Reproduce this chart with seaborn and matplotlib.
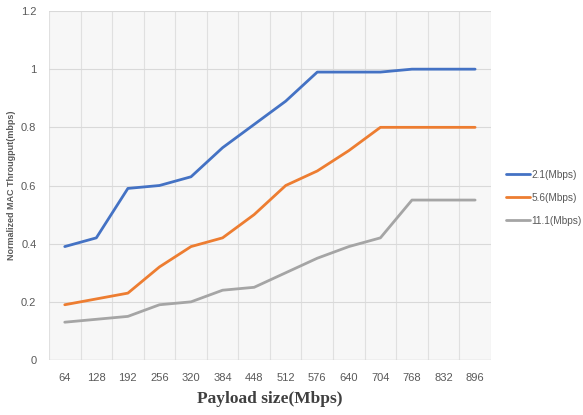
import matplotlib
matplotlib.use("Agg")
import matplotlib.pyplot as plt
import seaborn as sns
import pandas as pd

payload = ["64", "128", "192", "256", "320", "384", "448", "512", "576", "640", "704", "768", "832", "896"]
s21 = [0.39, 0.42, 0.59, 0.60, 0.63, 0.73, 0.81, 0.89, 0.99, 0.99, 0.99, 1.0, 1.0, 1.0]
s56 = [0.19, 0.21, 0.23, 0.32, 0.39, 0.42, 0.50, 0.60, 0.65, 0.72, 0.80, 0.80, 0.80, 0.80]
s111 = [0.13, 0.14, 0.15, 0.19, 0.20, 0.24, 0.25, 0.30, 0.35, 0.39, 0.42, 0.55, 0.55, 0.55]
series_names = ["2.1(Mbps)", "5.6(Mbps)", "11.1(Mbps)"]
colors = ["#4472C4", "#ED7D31", "#A5A5A5"]
yticks = [0, 0.2, 0.4, 0.6, 0.8, 1, 1.2]
ytick_labels = ["0", "0.2", "0.4", "0.6", "0.8", "1", "1.2"]

df = pd.DataFrame({
    "payload": payload * 3,
    "value": s21 + s56 + s111,
    "series": [series_names[0]] * len(payload) + [series_names[1]] * len(payload) + [series_names[2]] * len(payload),
})

sns.set_style("white")
plt.rcParams["font.family"] = ["Liberation Sans", "DejaVu Sans"]
plt.rcParams["hatch.color"] = "#e2e2e2"
plt.rcParams["hatch.linewidth"] = 0.5

fig = plt.figure(figsize=(5.83, 4.15), dpi=100)
ax = fig.add_axes([0.084, 0.1325, 0.758, 0.841])
ax.patch.set_facecolor("#f7f7f7")
ax.patch.set_hatch("xxxxxx")

sns.lineplot(data=df, x="payload", y="value", hue="series", palette=colors,
             linewidth=2, ax=ax, sort=False)

ax.set_xlim(-0.5, len(payload) - 0.5)
ax.set_ylim(0, 1.2)
ax.set_yticks(yticks)
ax.set_yticklabels(ytick_labels)
ax.set_xticks(range(len(payload)))
ax.set_xticklabels(payload)
ax.set_xticks([i + 0.5 for i in range(-1, len(payload))], minor=True)
ax.grid(axis="y", which="major", color="#d9d9d9", linewidth=0.8)
ax.grid(axis="x", which="minor", color="#e0e0e0", linewidth=0.8)
ax.grid(axis="x", which="major", visible=False)
ax.tick_params(axis="both", which="both", length=0, labelsize=8, colors="#595959", pad=9)
for s in ax.spines.values():
    s.set_visible(False)
ax.axhline(0, color="#d9d9d9", linewidth=1)

ax.set_xlabel("Payload size(Mbps)", family=["Liberation Serif"], fontweight="bold",
              fontsize=12.5, color="#404040", labelpad=6)
ax.set_ylabel("Normalized MAC Througput(mbps)", fontsize=6.5, fontweight="bold",
              color="#595959")
ax.yaxis.set_label_coords(-0.075, 0.5)

leg = ax.legend(loc="center left", bbox_to_anchor=(1.035, 0.465), frameon=False,
                fontsize=7.3, handlelength=2.3, labelspacing=1.3, handletextpad=0.15,
                borderpad=0, borderaxespad=0)
for t in leg.get_texts():
    t.set_color("#595959")

fig.savefig("out.png", dpi=100)
